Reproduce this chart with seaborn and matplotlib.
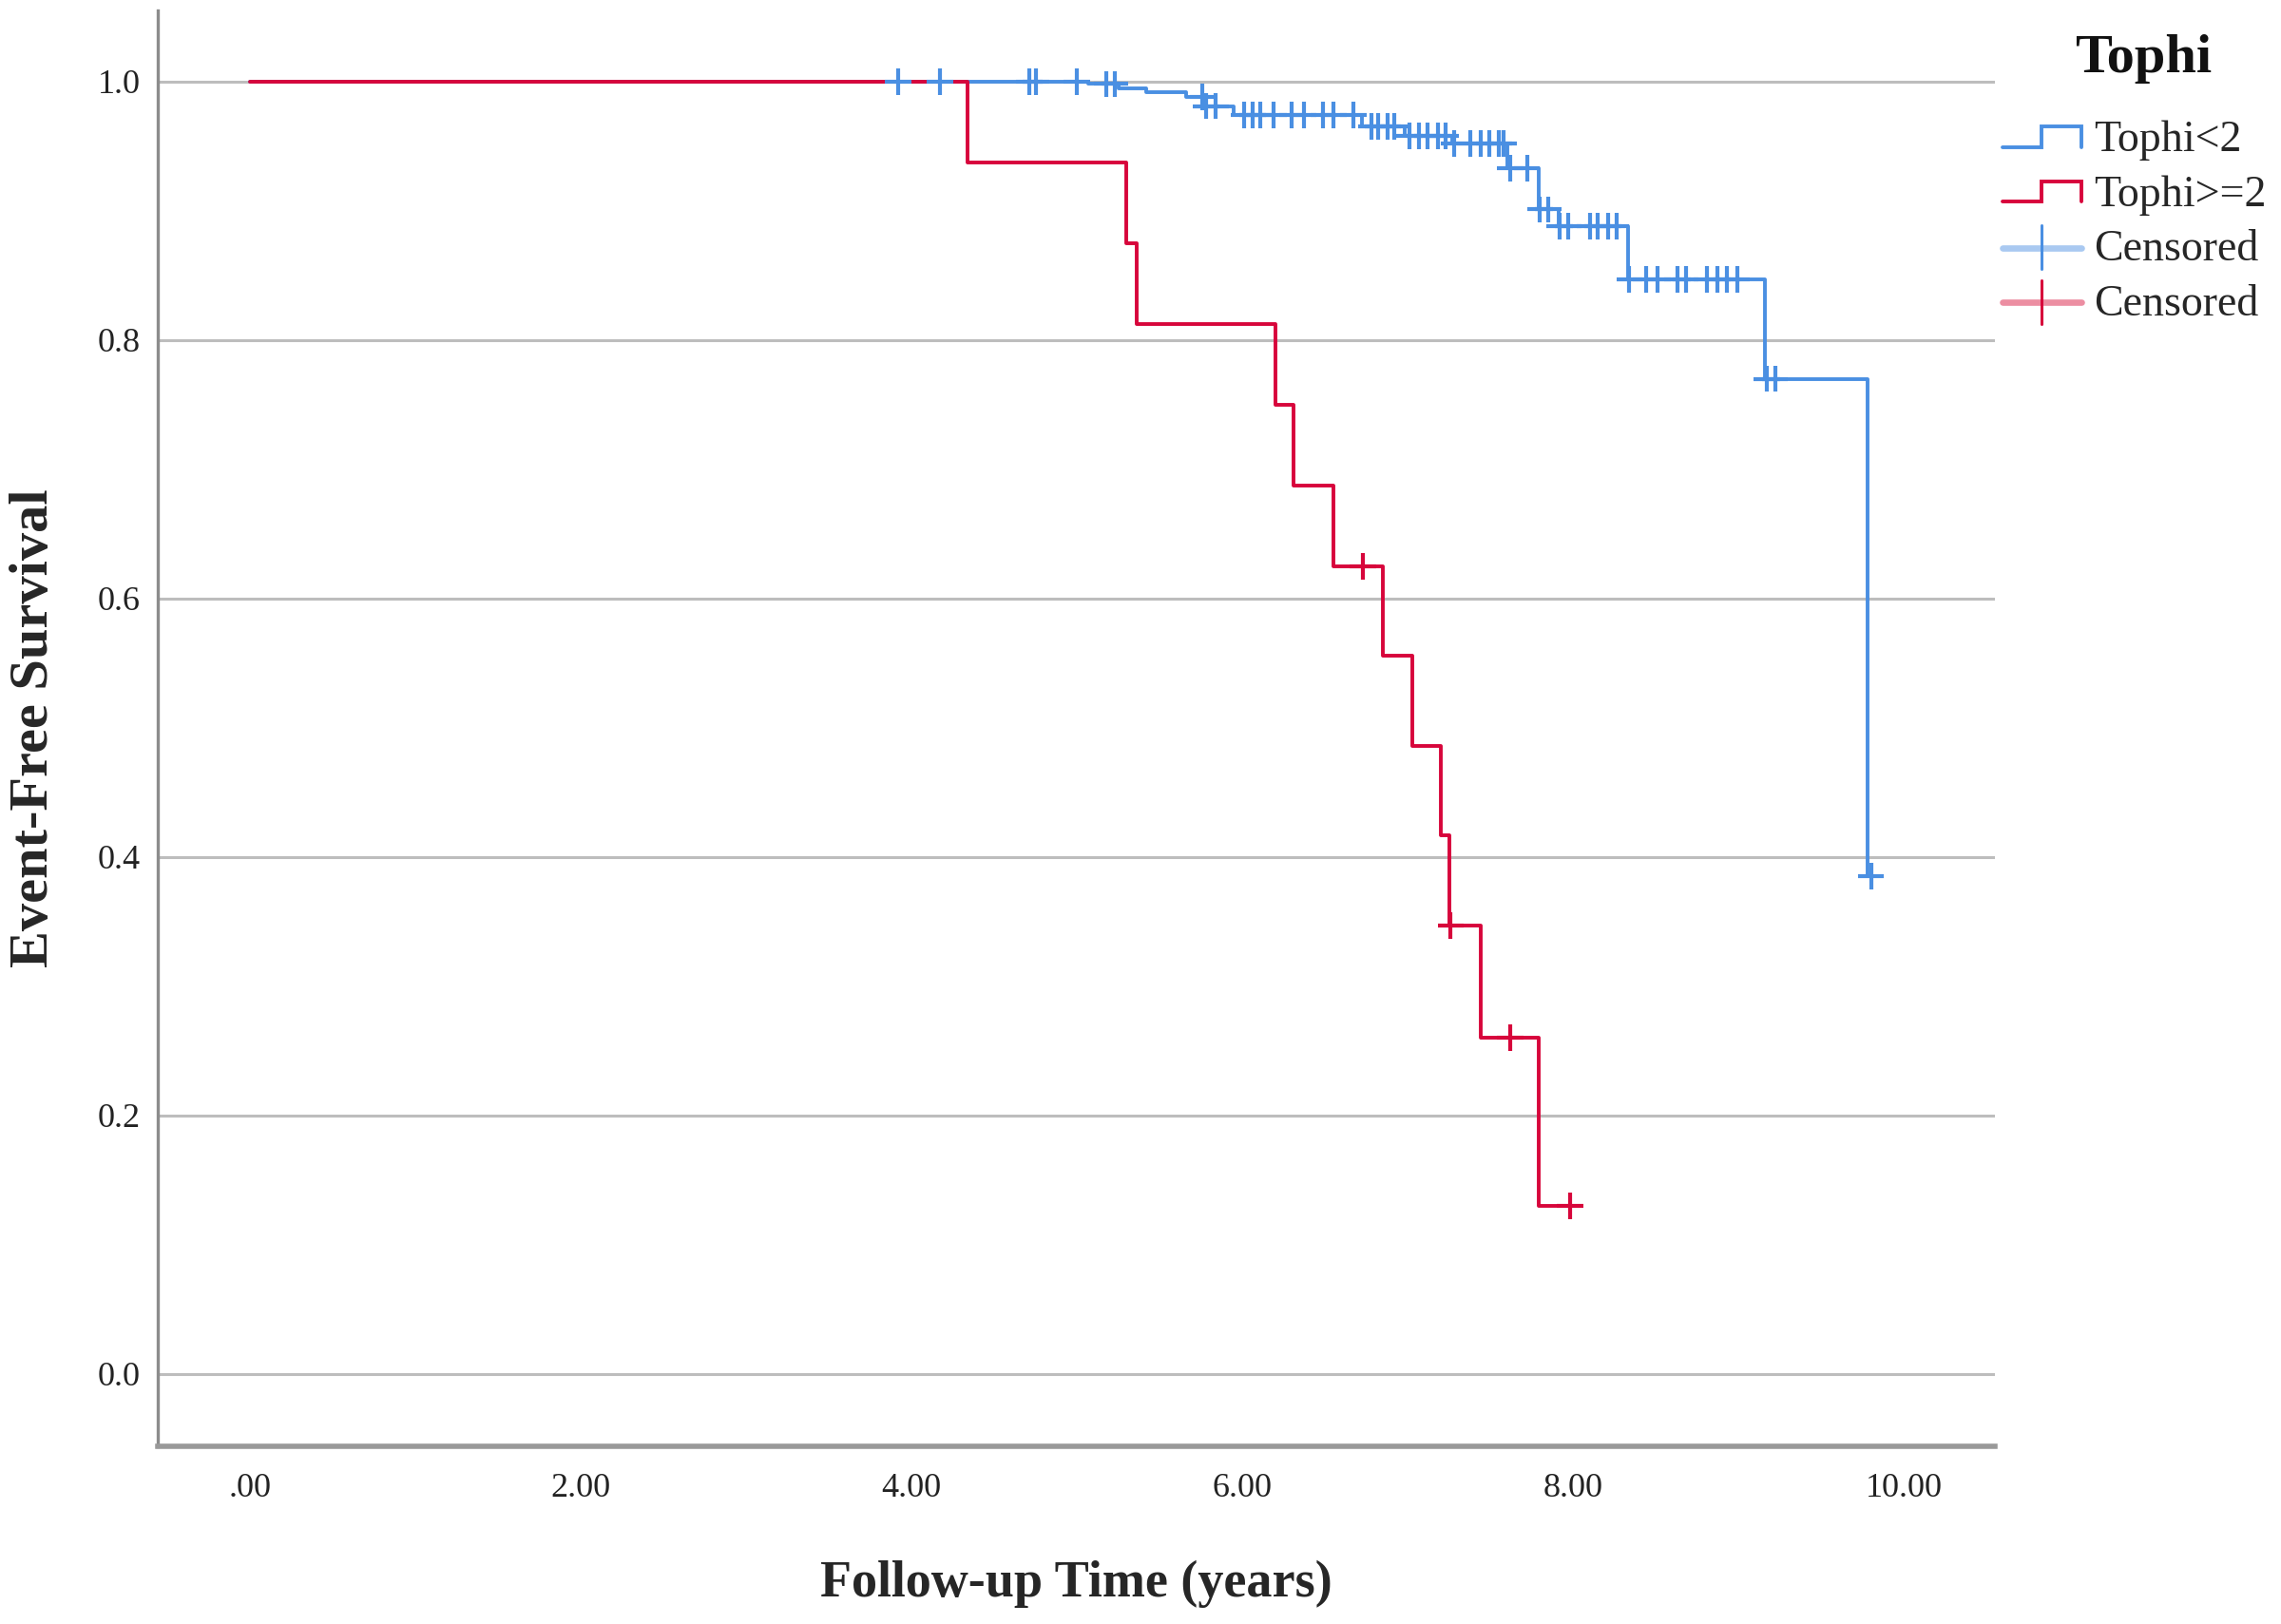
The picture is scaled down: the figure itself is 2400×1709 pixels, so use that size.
import numpy as np
import pandas as pd
import seaborn as sns
import matplotlib.pyplot as plt
from matplotlib.lines import Line2D
from matplotlib.legend_handler import HandlerBase

# Kaplan-Meier curves
groups = ['Tophi<2', 'Tophi>=2']

low_event_t = [5.07, 5.25, 5.42, 5.66, 5.77, 5.95, 6.72, 6.98, 7.27, 7.60,
               7.79, 7.91, 8.33, 9.16, 9.78]
low_surv = [0.998, 0.995, 0.992, 0.988, 0.981, 0.974, 0.965, 0.958, 0.952, 0.933,
            0.901, 0.888, 0.847, 0.770, 0.385]
low_censor_t = [3.92, 4.17, 4.71, 4.75, 5.00, 5.18, 5.23, 5.76, 5.78, 5.84,
                6.01, 6.06, 6.11, 6.19, 6.30, 6.37, 6.49, 6.55, 6.67, 6.78,
                6.82, 6.88, 6.92, 7.01, 7.07, 7.12, 7.18, 7.23, 7.28, 7.38,
                7.44, 7.49, 7.55, 7.58, 7.62, 7.72, 7.80, 7.85, 7.92, 7.97,
                8.10, 8.15, 8.21, 8.26, 8.34, 8.44, 8.51, 8.63, 8.68, 8.81,
                8.87, 8.93, 8.99, 9.17, 9.22, 9.80]

high_event_t = [4.34, 5.30, 5.36, 6.20, 6.31, 6.55, 6.85, 7.03, 7.20, 7.25, 7.44, 7.79]
high_surv = [0.9375, 0.875, 0.8125, 0.75, 0.6875, 0.625, 0.5556, 0.4861, 0.4167,
             0.3472, 0.2604, 0.1302]
high_censor_t = [6.73, 7.26, 7.62, 7.98]

x_ticks = [0, 2, 4, 6, 8, 10]
x_tick_labels = ['.00', '2.00', '4.00', '6.00', '8.00', '10.00']
y_ticks = [0.0, 0.2, 0.4, 0.6, 0.8, 1.0]
y_tick_labels = ['0.0', '0.2', '0.4', '0.6', '0.8', '1.0']

colors = {'Tophi<2': '#4a8fe2', 'Tophi>=2': '#d7063b'}
light = {'Tophi<2': '#a9c9f1', 'Tophi>=2': '#ec8ea2'}


def km_steps(name, ev_t, surv, cens_t):
    end = max(max(ev_t), max(cens_t))
    t = [0.0] + list(ev_t) + [end]
    s = [1.0] + list(surv) + [surv[-1]]
    return pd.DataFrame({'time': t, 'surv': s, 'group': name})


def km_censor(name, ev_t, surv, cens_t):
    idx = np.searchsorted(ev_t, cens_t, side='right') - 1
    s = [1.0 if i < 0 else surv[i] for i in idx]
    return pd.DataFrame({'time': cens_t, 'surv': s, 'group': name})


steps = pd.concat([km_steps('Tophi<2', low_event_t, low_surv, low_censor_t),
                   km_steps('Tophi>=2', high_event_t, high_surv, high_censor_t)])
cens = pd.concat([km_censor('Tophi<2', low_event_t, low_surv, low_censor_t),
                  km_censor('Tophi>=2', high_event_t, high_surv, high_censor_t)])

sns.set_theme(style='white')
plt.rcParams['font.family'] = ['Liberation Serif', 'DejaVu Serif']

fig = plt.figure(figsize=(12, 8.545), dpi=200)
ax = fig.add_axes([0.0692, 0.1094, 0.8054, 0.8842])

sns.lineplot(data=steps, x='time', y='surv', hue='group', hue_order=groups,
             palette=colors, drawstyle='steps-post', estimator=None, sort=False,
             linewidth=1.4, legend=False, ax=ax)
sns.scatterplot(data=cens, x='time', y='surv', hue='group', hue_order=groups,
                palette=colors, marker='+', s=100, linewidth=1.5, legend=False,
                ax=ax, zorder=4)

ax.set_xlim(-0.557, 10.55)
ax.set_ylim(-0.056, 1.055)
ax.set_xticks(x_ticks, x_tick_labels)
ax.set_yticks(y_ticks, y_tick_labels)
ax.set_axisbelow(True)
ax.yaxis.grid(True, color='#bdbdbd', linewidth=1.1)
ax.xaxis.grid(False)
ax.tick_params(axis='x', direction='in', length=9.7, width=0.9, color='#8c8c8c',
               pad=10, labelsize=13, labelcolor='#222222')
ax.tick_params(axis='y', length=0, pad=6.5, labelsize=13, labelcolor='#222222')
for side in ['top', 'right']:
    ax.spines[side].set_visible(False)
ax.spines['left'].set_color('#8c8c8c')
ax.spines['left'].set_linewidth(1.2)
ax.spines['bottom'].set_color('#999999')
ax.spines['bottom'].set_linewidth(2.0)

ax.set_xlabel('Follow-up Time (years)', fontsize=19.5, fontweight='bold')
ax.set_ylabel('Event-Free Survival', fontsize=21, fontweight='bold')
ax.xaxis.set_label_coords(0.5, -0.079)
ax.yaxis.set_label_coords(-0.054, 0.5)


class StepHandler(HandlerBase):
    def create_artists(self, legend, orig_handle, xdescent, ydescent, width,
                       height, fontsize, trans):
        c = orig_handle.get_color()
        x0 = -xdescent
        y0 = -ydescent
        xs = [x0, x0 + 0.5 * width, x0 + 0.5 * width, x0 + width, x0 + width]
        ys = [y0 + 0.22 * height, y0 + 0.22 * height, y0 + 0.75 * height,
              y0 + 0.75 * height, y0 + 0.22 * height]
        ln = Line2D(xs, ys, color=c, linewidth=1.4, solid_joinstyle='miter')
        ln.set_transform(trans)
        return [ln]


class CensorHandler(HandlerBase):
    def create_artists(self, legend, orig_handle, xdescent, ydescent, width,
                       height, fontsize, trans):
        c = orig_handle.get_color()
        x0 = -xdescent
        y0 = -ydescent
        ym = y0 + 0.45 * height
        hl = Line2D([x0, x0 + width], [ym, ym], color=orig_handle.get_markerfacecolor(),
                    linewidth=2.4)
        vl = Line2D([x0 + 0.5 * width] * 2, [y0 - 0.1 * height, y0 + 1.02 * height],
                    color=c, linewidth=1.1)
        hl.set_transform(trans)
        vl.set_transform(trans)
        return [hl, vl]


h_low = Line2D([], [], color=colors['Tophi<2'])
h_high = Line2D([], [], color=colors['Tophi>=2'])
h_cl = Line2D([], [], color=colors['Tophi<2'], markerfacecolor=light['Tophi<2'])
h_ch = Line2D([], [], color=colors['Tophi>=2'], markerfacecolor=light['Tophi>=2'])

fig.text(0.9396, 0.964, 'Tophi', fontsize=21, fontweight='bold',
         ha='center', va='center', color='#111111')
leg = fig.legend([h_low, h_high, h_cl, h_ch],
                 ['Tophi<2', 'Tophi>=2', 'Censored', 'Censored'],
                 handler_map={h_low: StepHandler(), h_high: StepHandler(),
                              h_cl: CensorHandler(), h_ch: CensorHandler()},
                 loc='center left', bbox_to_anchor=(0.878, 0.864),
                 frameon=False, fontsize=16.5, borderpad=0, borderaxespad=0,
                 handlelength=1.8, handleheight=1.0, handletextpad=0.3,
                 labelspacing=0.25)

fig.savefig('out.png', dpi=200, facecolor='white')
